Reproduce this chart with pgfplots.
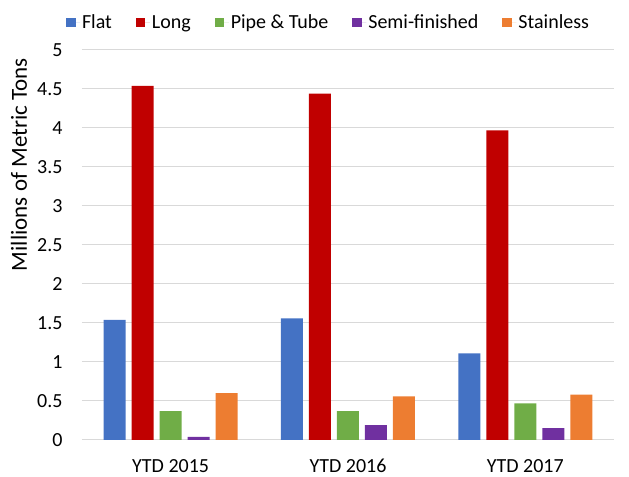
\documentclass[border=0pt]{standalone}
\usepackage{pgfplots}
\pgfplotsset{compat=1.18}
\usepackage{fontspec}
\setmainfont{Carlito}
\definecolor{cflat}{HTML}{4472C4}
\definecolor{clong}{HTML}{C00000}
\definecolor{cpipe}{HTML}{70AD47}
\definecolor{csemi}{HTML}{7030A0}
\definecolor{cstain}{HTML}{ED7D31}
\definecolor{gridc}{HTML}{D9D9D9}
\begin{document}
\begin{tikzpicture}
\begin{axis}[
  scale only axis,
  width=532pt, height=390pt,
  ybar=6pt, bar width=22pt,
  xmin=-0.5, xmax=2.5,
  ymin=0, ymax=5,
  xtick={0,1,2},
  xticklabels={YTD 2015,YTD 2016,YTD 2017},
  ytick={0,0.5,1,1.5,2,2.5,3,3.5,4,4.5,5},
  yticklabels={0,0.5,1,1.5,2,2.5,3,3.5,4,4.5,5},
  ymajorgrids, grid style={gridc, line width=1pt},
  axis line style={draw=none},
  major tick length=0pt,
  tick label style={font=\fontsize{20}{24}\selectfont},
  yticklabel style={xshift=-16pt},
  xticklabel style={yshift=-16pt},
  ylabel={Millions of Metric Tons},
  every axis y label/.style={at={(axis description cs:-0.1184,0.706)}, rotate=90, anchor=center},
  ylabel style={font=\fontsize{23}{27}\selectfont},
  clip=false,
  legend columns=5,
  legend style={at={(-0.036,1.07)}, anchor=west, draw=none, fill=none,
    font=\fontsize{20}{24}\selectfont,
    /tikz/every even column/.append style={column sep=22pt}},
  legend image code/.code={\fill[#1] (0pt,-4.75pt) rectangle (9.5pt,4.75pt);
    \path (0pt,0pt) -- (14pt,0pt);},
]
\draw[gridc, line width=1pt] (rel axis cs:0,0) -- (rel axis cs:1,0);
\addplot[fill=cflat, draw=none] coordinates {(0,1.54) (1,1.56) (2,1.11)};
\addplot[fill=clong, draw=none] coordinates {(0,4.54) (1,4.44) (2,3.97)};
\addplot[fill=cpipe, draw=none] coordinates {(0,0.37) (1,0.37) (2,0.47)};
\addplot[fill=csemi, draw=none] coordinates {(0,0.04) (1,0.19) (2,0.15)};
\addplot[fill=cstain, draw=none] coordinates {(0,0.60) (1,0.56) (2,0.58)};
\legend{Flat,Long,Pipe \& Tube,Semi-finished,Stainless}
\path (rel axis cs:-0.1541,-0.0949) rectangle (rel axis cs:1.0282,1.128);
\end{axis}
\end{tikzpicture}
\end{document}
